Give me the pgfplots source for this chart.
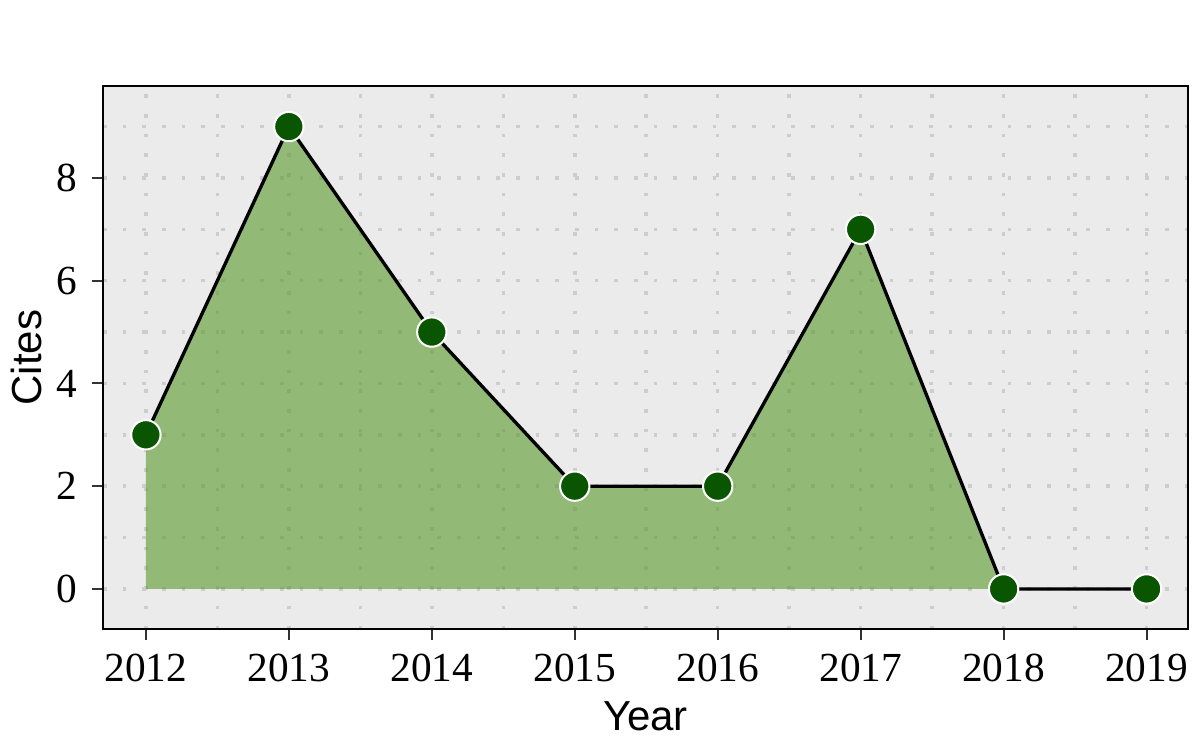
\documentclass[border=0pt]{standalone}
\usepackage{fontspec}
\setmainfont{Liberation Serif}
\newfontfamily\labelsans{Liberation Sans}
\usepackage{pgfplots}
\pgfplotsset{compat=1.18}
\definecolor{panelbg}{RGB}{235,235,235}
\definecolor{griddot}{RGB}{205,205,205}
\definecolor{areafill}{RGB}{88,153,40}
\definecolor{markgreen}{RGB}{10,85,0}
\definecolor{tickgrey}{RGB}{51,51,51}
\begin{document}
\fontsize{12.4bp}{14bp}\selectfont
\begin{tikzpicture}
\useasboundingbox (0,0) rectangle (360bp,225bp);
\begin{axis}[
  at={(30.9bp,36.3bp)}, anchor=south west,
  scale only axis, width=325.5bp, height=162.9bp,
  xmin=2011.70, xmax=2019.29,
  ymin=-0.78, ymax=9.79,
  xtick={2012,2013,2014,2015,2016,2017,2018,2019},
  minor xtick={2011.5,2012.5,2013.5,2014.5,2015.5,2016.5,2017.5,2018.5,2019.5},
  ytick={0,2,4,6,8},
  minor ytick={-1,1,3,5,7,9},
  /pgf/number format/1000 sep={},
  /pgf/number format/assume math mode=true,
  tick align=outside,
  major tick length=3.3bp,
  minor tick length=0pt,
  tick style={tickgrey, line width=0.6bp},
  xtick pos=bottom, ytick pos=left,
  axis line style={black, line width=0.6bp},
  axis background/.style={fill=panelbg},
  grid=both,
  major grid style={griddot, line width=1.05bp, dash pattern=on 1.05bp off 4.85bp},
  minor grid style={griddot, line width=1.05bp, dash pattern=on 1.05bp off 4.85bp},
  xticklabel style={font=\fontsize{12.4bp}{14bp}\selectfont},
  yticklabel style={font=\fontsize{12.4bp}{14bp}\selectfont},
  xlabel={Year}, ylabel={Cites},
  xlabel style={font=\labelsans\fontsize{12.6bp}{14bp}\selectfont, at={(axis description cs:0.5,-0.186)}, anchor=base, inner sep=0pt},
  ylabel style={font=\labelsans\fontsize{12.6bp}{14bp}\selectfont, at={(axis description cs:-0.057,0.5)}, anchor=base, inner sep=0pt},
  clip=true,
]
\addplot[draw=none, fill=areafill, fill opacity=0.6] coordinates {
  (2012,3) (2013,9) (2014,5) (2015,2) (2016,2) (2017,7) (2018,0)
} \closedcycle;
\addplot[black, line width=1bp] coordinates {
  (2012,3) (2013,9) (2014,5) (2015,2) (2016,2) (2017,7) (2018,0) (2019,0)
};
\addplot[only marks, mark=*, mark size=4.4bp, mark options={fill=markgreen, draw=white, line width=0.6bp}] coordinates {
  (2012,3) (2013,9) (2014,5) (2015,2) (2016,2) (2017,7) (2018,0) (2019,0)
};
\end{axis}
\end{tikzpicture}
\end{document}
